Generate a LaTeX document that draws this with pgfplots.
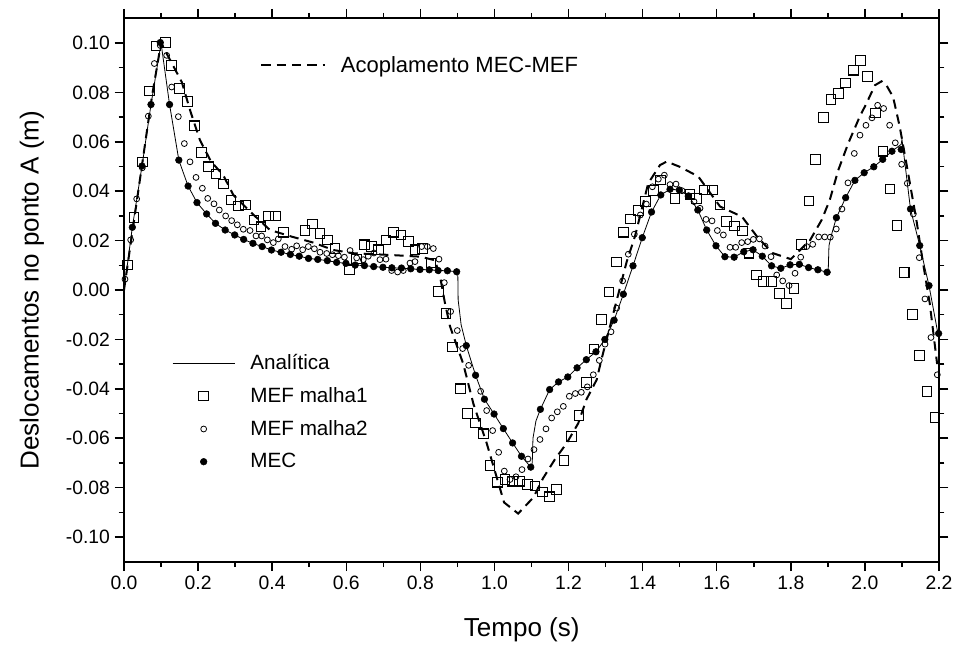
\documentclass[border=0pt]{standalone}
\usepackage{pgfplots}
\pgfplotsset{compat=1.18}
\usepackage{fontspec}
\setmainfont{Liberation Sans}

\begin{document}
\begin{tikzpicture}
\useasboundingbox (-93pt,-70.7pt) rectangle (626.25pt,421.3pt);
\pgfplotsset{
  base/.style={
    width=611.25pt, height=407.55pt, scale only axis,
    xmin=0, xmax=2.2, ymin=-0.11, ymax=0.11,
    at={(0,0)}, anchor=south west,
  },
}
% acoplamento curve, separate legend at top
\begin{axis}[base, hide axis,
    legend style={draw=none, fill=none, at={(axis description cs:0.162,0.914)}, anchor=west,
      font=\fontsize{16.5}{19}\selectfont},
    legend image code/.code={\draw[#1] (0pt,0pt) -- (48pt,0pt); \path (57pt,0pt);},
  ]
  \addplot[black, line width=1.5pt, dash pattern=on 7pt off 4.5pt] coordinates {
    (0,0) (0.025,0.026) (0.05,0.052) (0.075,0.078) (0.1,0.1) (0.125,0.093) (0.156,0.0842)
    (0.18,0.072) (0.205,0.0607) (0.235,0.052) (0.268,0.0465) (0.295,0.0385) (0.345,0.0311)
    (0.394,0.0243) (0.453,0.0216) (0.511,0.0192) (0.565,0.0162) (0.619,0.0149) (0.718,0.0142)
    (0.80,0.0135) (0.84,0.012) (0.855,0.004) (0.866,-0.005) (0.88,-0.0147) (0.916,-0.030)
    (0.943,-0.046) (0.979,-0.062) (1.026,-0.086) (1.064,-0.0905) (1.105,-0.084) (1.132,-0.076)
    (1.163,-0.0686) (1.195,-0.062) (1.226,-0.054) (1.248,-0.0444) (1.276,-0.0363) (1.289,-0.028)
    (1.32,-0.01) (1.357,0.0115) (1.379,0.0216) (1.415,0.0432) (1.447,0.0506) (1.465,0.052)
    (1.5,0.0499) (1.55,0.046) (1.609,0.0338) (1.668,0.0297) (1.708,0.0218) (1.75,0.015)
    (1.8,0.0125) (1.852,0.0202) (1.883,0.0283) (1.905,0.0364) (1.928,0.0485) (1.955,0.0594)
    (1.986,0.0702) (2.004,0.0755) (2.027,0.0829) (2.045,0.0845) (2.058,0.0829) (2.076,0.0782)
    (2.094,0.0661) (2.112,0.0512) (2.139,0.0283) (2.157,0.0108) (2.175,-0.0054) (2.195,-0.03)
  };
  \addlegendentry{Acoplamento MEC-MEF}
\end{axis}

\begin{axis}[base,
    axis line style={line width=1.4pt},
    tick style={black, line width=1.1pt},
    tick align=outside,
    major tick length=7pt, minor tick length=4pt,
    xtick={0,0.2,...,2.2}, minor x tick num=1,
    ytick={-0.10,-0.08,...,0.10}, minor y tick num=1,
    scaled y ticks=false, scaled x ticks=false,
    /pgf/number format/assume math mode=true,
    tick label style={font=\fontsize{14.5}{17}\selectfont},
    xticklabel style={/pgf/number format/.cd, fixed, fixed zerofill, precision=1},
    yticklabel style={/pgf/number format/.cd, fixed, fixed zerofill, precision=2},
    xlabel={Tempo (s)},
    ylabel={Deslocamentos no ponto A (m)},
    label style={font=\fontsize{19.5}{23}\selectfont},
    xlabel style={at={(axis description cs:0.488,-0.126)}, anchor=center},
    ylabel style={at={(axis description cs:-0.113,0.5)}, anchor=center},
    legend style={draw=none, fill=none, at={(axis description cs:0.054,0.392)}, anchor=north west,
      font=\fontsize{15.5}{18}\selectfont, row sep=8pt},
    legend cell align=left,
    legend image code/.code={\draw[mark repeat=2,mark phase=2,#1] plot coordinates {(0pt,0pt) (23.25pt,0pt) (46.5pt,0pt)}; \path (56pt,0pt);},
  ]
  % analytic solution
  \addplot[black, line width=0.6pt] coordinates {
    (0,0) (0.0225,0.0254) (0.0486,0.0502) (0.0729,0.0751) (0.1,0.1) (0.123,0.0751) (0.148,0.0526)
    (0.173,0.0421) (0.197,0.0354) (0.223,0.0308) (0.247,0.027) (0.273,0.0243) (0.299,0.0223)
    (0.323,0.0205) (0.348,0.0189) (0.373,0.0176) (0.398,0.0162) (0.424,0.0153) (0.449,0.0144)
    (0.473,0.0137) (0.498,0.0128) (0.523,0.0124) (0.549,0.0119) (0.574,0.0112) (0.599,0.0108)
    (0.624,0.0101) (0.649,0.0099) (0.674,0.0095) (0.699,0.0092) (0.723,0.0090) (0.749,0.0089)
    (0.774,0.0086) (0.799,0.0083) (0.824,0.0082) (0.848,0.0079) (0.873,0.0078) (0.898,0.0074)
    (0.901,0.0074) (0.902,-0.004) (0.91,-0.014) (0.924,-0.0225) (0.949,-0.0345) (0.973,-0.0442)
    (0.999,-0.0502) (1.024,-0.0561) (1.049,-0.0619) (1.073,-0.0673) (1.098,-0.0717) (1.102,-0.070)
    (1.104,-0.060) (1.112,-0.053) (1.124,-0.0483) (1.149,-0.0403) (1.173,-0.0372) (1.198,-0.0352)
    (1.223,-0.0315) (1.248,-0.0282) (1.274,-0.025) (1.298,-0.0200) (1.323,-0.0122) (1.348,-0.0017)
    (1.374,0.0098) (1.399,0.0212) (1.424,0.0316) (1.449,0.0385) (1.474,0.0408) (1.499,0.0405)
    (1.524,0.0381) (1.549,0.0324) (1.573,0.0243) (1.598,0.0179) (1.622,0.0135) (1.647,0.0133)
    (1.673,0.0155) (1.698,0.0163) (1.723,0.0137) (1.748,0.0098) (1.773,0.0088) (1.798,0.0102)
    (1.823,0.0104) (1.848,0.0091) (1.873,0.0082) (1.898,0.0072) (1.901,0.0080) (1.903,0.018)
    (1.91,0.0225) (1.923,0.0293) (1.948,0.0374) (1.973,0.0444) (1.998,0.0475) (2.024,0.0499)
    (2.048,0.0529) (2.073,0.0562) (2.098,0.0590) (2.1,0.061) (2.105,0.055) (2.123,0.0328)
    (2.148,0.018) (2.173,0.0018) (2.2,-0.02)
  };
  \addlegendentry{Analítica}
  % MEF malha1
  \addplot[black, only marks, mark=square, mark size=3.6pt, mark options={line width=0.8pt}] coordinates {
    (0.0099,0.0102) (0.027,0.0294) (0.0495,0.0519) (0.0683,0.0806) (0.0863,0.0988) (0.1116,0.1002)
    (0.1287,0.091) (0.1494,0.0816) (0.1709,0.0764) (0.1898,0.0665) (0.2096,0.0556) (0.2276,0.0499)
    (0.2483,0.047) (0.2681,0.0429) (0.2888,0.0364) (0.3086,0.034) (0.3284,0.0344) (0.3509,0.0284)
    (0.3698,0.0256) (0.3896,0.03) (0.4094,0.03) (0.4301,0.0234) (0.4886,0.0241) (0.5084,0.0267)
    (0.5291,0.0228) (0.549,0.0203) (0.5697,0.0169) (0.6081,0.0082) (0.6279,0.0125) (0.6486,0.0183)
    (0.6684,0.0176) (0.6864,0.0163) (0.7071,0.0203) (0.7269,0.0234) (0.7476,0.0223) (0.7674,0.0196)
    (0.7854,0.0163) (0.8061,0.0169) (0.8286,0.0109) (0.8484,-0.0007) (0.869,-0.0096) (0.8871,-0.0231)
    (0.909,-0.04) (0.9276,-0.05) (0.9483,-0.0538) (0.9699,-0.0582) (0.9879,-0.071) (1.0086,-0.0778)
    (1.0284,-0.0767) (1.0491,-0.0774) (1.0671,-0.0774) (1.0887,-0.0787) (1.1094,-0.0794)
    (1.1292,-0.0818) (1.1481,-0.0837) (1.1679,-0.0808) (1.1877,-0.069) (1.2084,-0.0592)
    (1.2282,-0.0507) (1.2489,-0.0374) (1.2687,-0.0239) (1.2894,-0.012) (1.3092,-0.0008)
    (1.3299,0.0113) (1.3479,0.0234) (1.3677,0.0288) (1.3884,0.0321) (1.4082,0.0358) (1.429,0.0402)
    (1.4488,0.0445) (1.4872,0.0371) (1.5277,0.0388) (1.5457,0.0371) (1.5664,0.0405) (1.588,0.0405)
    (1.6087,0.0344) (1.6267,0.0277) (1.6474,0.0259) (1.669,0.0239) (1.687,0.0149) (1.7077,0.0061)
    (1.7257,0.0034) (1.7482,0.0034) (1.769,-0.0015) (1.7888,-0.0055) (1.8086,0.0007) (1.8293,0.0184)
    (1.849,0.036) (1.867,0.0529) (1.888,0.0699) (1.908,0.0771) (1.928,0.0795) (1.948,0.0838)
    (1.969,0.089) (1.988,0.093) (2.007,0.0865) (2.029,0.0717) (2.049,0.0562) (2.068,0.0409)
    (2.087,0.0261) (2.106,0.0072) (2.128,-0.01) (2.147,-0.0265) (2.168,-0.041) (2.189,-0.0515)
  };
  \addlegendentry{MEF malha1}
  % MEF malha2
  \addplot[black, only marks, mark=o, mark size=2.2pt, mark options={line width=0.6pt}] coordinates {
    (0.0027,0.0044) (0.018,0.0203) (0.0342,0.0369) (0.0495,0.0495) (0.0657,0.0704) (0.0819,0.0917)
    (0.098,0.099) (0.1152,0.095) (0.1287,0.0822) (0.1467,0.0702) (0.1629,0.0593) (0.1782,0.0519)
    (0.1944,0.0456) (0.2115,0.0412) (0.226,0.0371) (0.2429,0.0349) (0.2573,0.0324) (0.2744,0.03)
    (0.2906,0.0281) (0.3059,0.0264) (0.3221,0.0246) (0.3401,0.0241) (0.3563,0.0219) (0.3716,0.0219)
    (0.3869,0.0203) (0.4031,0.0192) (0.4166,0.0207) (0.4346,0.0176) (0.4526,0.0165) (0.4661,0.0179)
    (0.4823,0.0163) (0.4976,0.0176) (0.5139,0.0167) (0.5292,0.0153) (0.5472,0.0148) (0.5625,0.0143)
    (0.5787,0.0139) (0.5949,0.0133) (0.6103,0.016) (0.628,0.013) (0.6459,0.0123) (0.6594,0.0137)
    (0.6747,0.015) (0.6909,0.0123) (0.7071,0.0125) (0.7224,0.0079) (0.7386,0.0073) (0.7539,0.0079)
    (0.7719,0.0109) (0.7854,0.0115) (0.8034,0.0176) (0.8188,0.0176) (0.835,0.0168) (0.8503,0.0125)
    (0.8646,0.003) (0.8817,-0.0087) (0.8997,-0.0164) (0.9141,-0.0237) (0.9303,-0.0305)
    (0.9627,-0.041) (0.9789,-0.0488) (0.9951,-0.0569) (1.0113,-0.0657) (1.0266,-0.0733)
    (1.042,-0.0767) (1.0581,-0.0756) (1.0743,-0.0727) (1.0905,-0.0684) (1.1067,-0.0646)
    (1.1229,-0.0605) (1.1391,-0.0562) (1.1544,-0.0518) (1.1697,-0.0493) (1.1859,-0.0471)
    (1.2021,-0.043) (1.2183,-0.0419) (1.2345,-0.0414) (1.2507,-0.0392) (1.2669,-0.0343)
    (1.2831,-0.0285) (1.2984,-0.0219) (1.3146,-0.0169) (1.3298,-0.0073) (1.346,0.0037)
    (1.3613,0.0145) (1.3776,0.0226) (1.3938,0.0304) (1.41,0.0348) (1.4262,0.0418) (1.4424,0.0449)
    (1.4586,0.0465) (1.4739,0.0427) (1.4901,0.0429) (1.5063,0.0402) (1.5225,0.038) (1.5387,0.0358)
    (1.5549,0.0331) (1.5711,0.0286) (1.5873,0.028) (1.6017,0.0241) (1.6179,0.0223) (1.6359,0.0173)
    (1.6512,0.0173) (1.6674,0.0192) (1.6836,0.0196) (1.6989,0.0205) (1.7151,0.0207) (1.7304,0.0178)
    (1.7466,0.0135) (1.7619,0.0061) (1.7781,0.0037) (1.7952,0.0018) (1.8114,0.0068) (1.8267,0.0133)
    (1.8429,0.0176) (1.8591,0.0185) (1.8753,0.0215) (1.8915,0.0215) (1.9065,0.0214) (1.9227,0.0247)
    (1.938,0.0328) (1.9542,0.0434) (1.9713,0.0553) (1.9866,0.0627) (2.0028,0.0667) (2.019,0.0697)
    (2.0343,0.0748) (2.0505,0.0735) (2.0667,0.0667) (2.082,0.0596) (2.0991,0.0509) (2.1144,0.0432)
    (2.1306,0.0308) (2.1468,0.0131) (2.1621,-0.0036) (2.1783,-0.0192) (2.1954,-0.0343)
  };
  \addlegendentry{MEF malha2}
  % MEC
  \addplot[black, only marks, mark=*, mark size=2.5pt] coordinates {
    (0.0225,0.0254) (0.0486,0.0502) (0.0729,0.0751) (0.098,0.1002) (0.123,0.0751) (0.148,0.0526)
    (0.173,0.0421) (0.197,0.0354) (0.223,0.0308) (0.247,0.027) (0.273,0.0243) (0.299,0.0223)
    (0.323,0.0205) (0.348,0.0189) (0.373,0.0176) (0.398,0.0162) (0.424,0.0153) (0.449,0.0144)
    (0.473,0.0137) (0.498,0.0128) (0.523,0.0124) (0.549,0.0119) (0.574,0.0112) (0.599,0.0108)
    (0.624,0.0101) (0.649,0.0099) (0.674,0.0095) (0.699,0.0092) (0.723,0.0090) (0.749,0.0089)
    (0.774,0.0086) (0.799,0.0083) (0.824,0.0082) (0.848,0.0079) (0.873,0.0078) (0.898,0.0074)
    (0.924,-0.0225) (0.949,-0.0345) (0.973,-0.0442) (0.999,-0.0502) (1.024,-0.0561) (1.049,-0.0619)
    (1.073,-0.0673) (1.098,-0.0717) (1.124,-0.0483) (1.149,-0.0403) (1.173,-0.0372) (1.198,-0.0352)
    (1.223,-0.0315) (1.248,-0.0282) (1.274,-0.025) (1.298,-0.0200) (1.323,-0.0122) (1.348,-0.0017)
    (1.374,0.0098) (1.399,0.0212) (1.424,0.0316) (1.449,0.0385) (1.474,0.0408) (1.499,0.0405)
    (1.524,0.0381) (1.549,0.0324) (1.573,0.0243) (1.598,0.0179) (1.622,0.0135) (1.647,0.0133)
    (1.673,0.0155) (1.698,0.0163) (1.723,0.0137) (1.748,0.0098) (1.773,0.0088) (1.798,0.0102)
    (1.823,0.0104) (1.848,0.0091) (1.873,0.0082) (1.898,0.0072) (1.923,0.0293) (1.948,0.0374)
    (1.973,0.0444) (1.998,0.0475) (2.024,0.0499) (2.048,0.0529) (2.073,0.0562) (2.098,0.0569)
    (2.123,0.0328) (2.148,0.018) (2.173,0.0018) (2.199,-0.0176)
  };
  \addlegendentry{MEC}
\end{axis}
\end{tikzpicture}
\end{document}
